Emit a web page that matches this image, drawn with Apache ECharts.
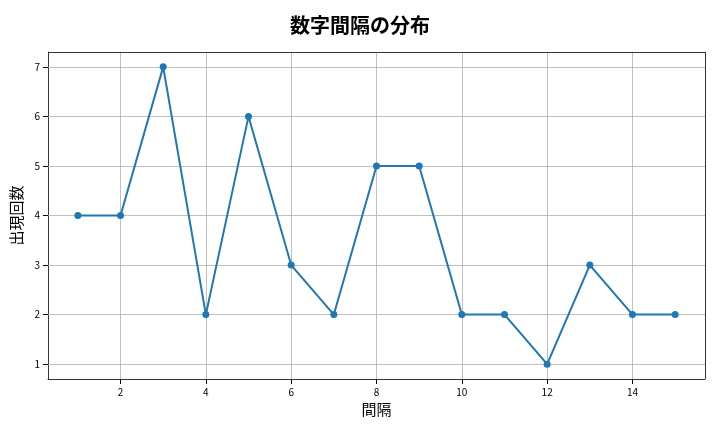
<!DOCTYPE html>
<html><head><meta charset="utf-8">
<script src="https://cdn.jsdelivr.net/npm/echarts@6/dist/echarts.min.js"></script>
</head><body style="margin:0">
<div id="c" style="width:720px;height:432px"></div>
<script>
const intervals = [1,2,3,4,5,6,7,8,9,10,11,12,13,14,15];
const counts = [4,4,7,2,6,3,2,5,5,2,2,1,3,2,2];
const xTicks = [2,4,6,8,10,12,14];
const yTicks = [1,2,3,4,5,6,7];
const F = '"Noto Sans CJK JP", sans-serif';
const chart = echarts.init(document.getElementById('c'));
const gl = {color:'#b0b0b0', width:0.8, type:'solid'};
chart.setOption({
  animation:false,
  title:{text:'数字間隔の分布', left:'center', top:10, textStyle:{fontFamily:F, fontSize:20, fontWeight:'bold', color:'#000'}},
  grid:{left:48, right:15, top:52, bottom:53},
  xAxis:{type:'value', min:0.3, max:15.7, name:'間隔', nameLocation:'middle', nameGap:20,
    nameTextStyle:{fontFamily:F, fontSize:15, color:'#000'},
    axisLine:{show:true, onZero:false, lineStyle:{color:'#000', width:0.8}},
    axisTick:{show:true, customValues:xTicks, lineStyle:{color:'#000'}},
    axisLabel:{customValues:xTicks, fontFamily:F, fontSize:10, color:'#000'},
    splitLine:{show:false}},
  yAxis:{type:'value', min:0.7, max:7.3, name:'出現回数', nameLocation:'middle', nameGap:20,
    nameTextStyle:{fontFamily:F, fontSize:15, color:'#000'},
    axisLine:{show:true, onZero:false, lineStyle:{color:'#000', width:0.8}},
    axisTick:{show:true, customValues:yTicks, lineStyle:{color:'#000'}},
    axisLabel:{customValues:yTicks, fontFamily:F, fontSize:10, color:'#000'},
    splitLine:{show:false}},
  series:[{type:'line', data:intervals.map((x,i)=>[x,counts[i]]), symbol:'circle', symbolSize:7,
    lineStyle:{color:'#1f77b4', width:2}, itemStyle:{color:'#1f77b4'}, z:5,
    markLine:{silent:true, symbol:'none', label:{show:false}, lineStyle:gl,
      data:[...xTicks.map(v=>({xAxis:v})), ...yTicks.map(v=>({yAxis:v}))]}},
    {type:'line', data:[], markLine:{silent:true, symbol:'none', label:{show:false},
      lineStyle:{color:'#000', width:0.8, type:'solid'}, data:[{xAxis:15.7},{yAxis:7.3}]}}]
});
</script></body></html>
